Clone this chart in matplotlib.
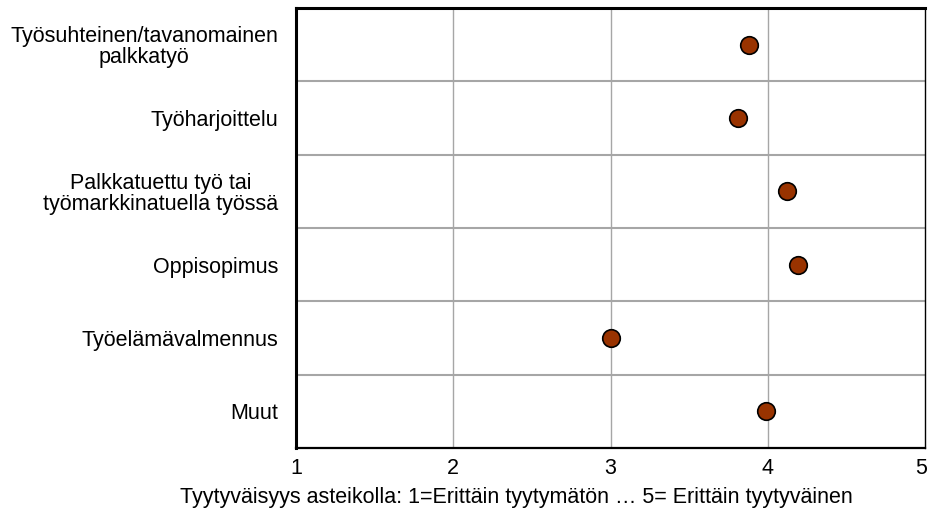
import matplotlib
matplotlib.use("Agg")
import matplotlib.pyplot as plt
import matplotlib.transforms as mtransforms
import numpy as np

plt.rcParams['font.family'] = ['Liberation Sans', 'DejaVu Sans']

categories = [
    "Työsuhteinen/tavanomainen\npalkkatyö",
    "Työharjoittelu",
    "Palkkatuettu työ tai\ntyömarkkinatuella työssä",
    "Oppisopimus",
    "Työelämävalmennus",
    "Muut",
]
scores = [3.88, 3.81, 4.12, 4.19, 3.00, 3.99]
x_ticks = [1, 2, 3, 4, 5]
x_label = "Tyytyväisyys asteikolla: 1=Erittäin tyytymätön … 5= Erittäin tyytyväinen"

fs = 15.5
fig = plt.figure(figsize=(9.32, 5.24), dpi=100)
ax = fig.add_axes([0.3176, 0.145, 0.6749, 0.8398])

n = len(categories)
ypos = np.arange(n) + 0.5
ax.scatter(scores, ypos, s=160, color="#993300", edgecolor="black",
           linewidth=1.2, zorder=3)

ax.set_xlim(1, 5)
ax.set_ylim(n, 0)
ax.set_xticks(x_ticks)
ax.set_xticklabels([str(t) for t in x_ticks], fontsize=fs)
ax.set_yticks(ypos)
ax.set_yticklabels(categories, fontsize=fs, multialignment="center",
                   linespacing=1.0)
ax.tick_params(axis="both", length=0)
ax.tick_params(axis="x", pad=7)
ax.tick_params(axis="y", pad=13)

# last tick label sits a bit inside the figure edge
last = ax.get_xticklabels()[-1]
last.set_transform(last.get_transform() +
                   mtransforms.ScaledTranslation(-4 / 100, 0, fig.dpi_scale_trans))

# grid: vertical at x ticks, horizontal between categories
for xv in x_ticks[1:-1]:
    ax.axvline(xv, color="#a6a6a6", linewidth=1, zorder=1)
for yv in range(1, n):
    ax.axhline(yv, color="#a6a6a6", linewidth=1.5, zorder=1)

fig.text(516 / 932, 1 - 497 / 524, x_label, fontsize=fs,
         ha="center", va="center")

for side in ("left", "top"):
    ax.spines[side].set_linewidth(2.2)
ax.spines["bottom"].set_linewidth(1.6)
ax.spines["right"].set_linewidth(1.0)
for sp in ax.spines.values():
    sp.set_color("black")

fig.savefig("out.png", dpi=100)
